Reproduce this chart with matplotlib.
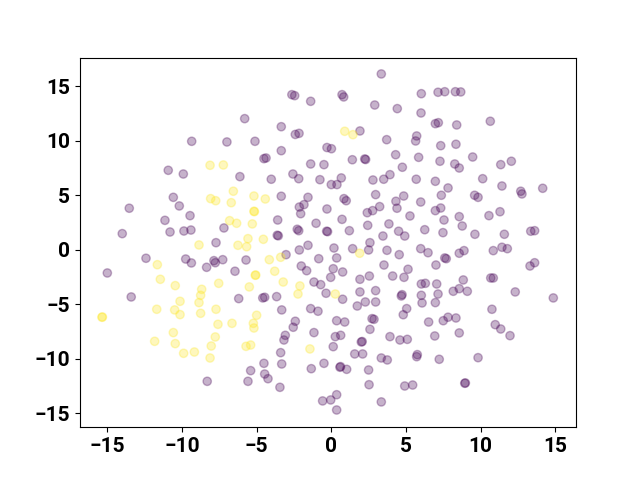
import numpy as np
import matplotlib
matplotlib.use("Agg")
import matplotlib.pyplot as plt

# class 0 (purple) points
px = [-9.35, -10.92, -9.91,
      -2.64, -2.45, -1.38, -5.80, -3.35, -2.41, -2.16, -6.99, -5.11, -3.35, -0.29, 0.01, -4.51, -4.37,
      -6.12, -4.02, -2.57, -2.18, -1.38, -0.49, -0.76,
      3.35, 0.72, 0.83, 6.03, 7.15, 7.60, 2.91, 4.42, 6.01, 6.97, 7.17, 1.92, 3.71, 5.72, 5.65, 7.33,
      1.41, 2.24, 2.30, 4.31, 5.85, 7.28, 8.27, 8.57, 4.76, 3.93, 0.67, 2.79, 3.51, 5.69, 6.97,
      8.31, 8.67, 10.65, 8.40, 8.35, 9.47, 11.35, 12.06, 10.14, 11.43,
      -10.58, -10.18, -13.53, -9.46, -11.14, -10.80, -9.87, -9.40, -14.0, -12.41, -9.75, -9.37, -8.35,
      -15.0, -13.40,
      -3.35, -1.56, -2.14, -1.83, -2.05, -0.29, -3.59, -7.19, -2.28, -2.18, -1.02, -0.31, -0.25, -3.62,
      -3.55, -7.72, -1.56, -2.14, -3.03, -0.84, -7.86, -7.77, -7.27, -5.71, -6.45, -2.01, -1.65, -1.16,
      -0.71, -0.35, -6.20, -4.59, -4.46, -3.66, -1.38, -0.89,
      0.0, 0.38, 7.82, 2.97, 0.85, 1.00, 4.85, 4.33, 5.99, 7.37, 3.24, 4.40, 2.41, 2.77, 6.97, 7.33,
      5.27, 7.55, 0.72, 2.44, 3.86, 1.21, 4.51, 4.92, 6.26, 7.48, 3.46, 2.59, 2.50, 0.18, 1.43, 3.73,
      4.55, 5.99, 6.48, 7.60, 7.70, 0.36, 3.53, 7.01, 0.13, 0.76, 5.14, 2.55, 4.11, 4.87, 1.92, -0.04,
      6.03, 6.30, 7.06, 7.15, 1.92, 2.97, 4.74, 4.69, 6.03, 0.76, 2.28, 2.97, 6.97,
      1.74, 5.05, 4.82, 6.08, 0.36, 0.90, 2.73, 2.86, 6.52, 7.50, 7.82, 2.59, 0.27, 0.63, 3.93, 4.60,
      5.09, 6.93, 0.13, 2.01, 2.07, 1.57, 2.10, 3.35, 3.75, 5.76, 5.72, 7.23, 0.58, 0.62, 1.03, 2.50,
      2.53, 4.92, 5.45, 0.36, -0.04, 3.35, 0.36,
      -3.32, -2.41, -2.55, -1.16, -3.08, -3.17, -3.39, -4.51, -5.40, -3.32, -1.34, -0.49, -4.46, -4.24,
      -8.31, -5.58, -3.44, -0.58,
      12.69, 12.77, 14.16, 9.60, 9.83, 8.57, 10.56, 11.30, 8.77, 9.62, 11.59, 13.36, 13.62, 8.57, 8.89,
      10.85, 11.43, 11.79, 13.31, 13.62, 10.68, 10.85, 8.84, 8.17, 8.57, 9.11, 12.32, 14.87, 10.76,
      8.35, 8.57, 10.98, 11.35, 11.97, 9.83, 8.94, 8.98]
py = [9.97, 7.31, 6.97,
      14.25, 14.16, 13.64, 12.05, 11.31, 10.6, 10.7, 9.91, 9.97, 9.11, 9.40, 9.29, 8.38, 8.44,
      6.73, 6.49, 6.97, 6.54, 7.89, 7.83, 6.45,
      16.15, 14.25, 14.04, 14.34, 14.47, 14.52, 13.30, 12.97, 12.57, 11.59, 11.68, 10.92, 10.12, 10.46, 10.0, 9.57,
      8.28, 8.35, 8.30, 8.74, 8.50, 8.14, 7.89, 7.52, 7.59, 6.91, 6.61, 6.42, 6.49, 6.49, 6.30,
      14.52, 14.50, 11.81, 11.47, 9.70, 8.53, 7.83, 8.14, 6.54, 5.87,
      4.83, 4.04, 3.83, 3.15, 2.72, 1.65, 1.74, 1.83, 1.50, -0.76, -0.83, -1.19, -1.59,
      -2.11, -4.31,
      4.93, 4.83, 3.94, 4.16, 3.33, 3.76, 2.75, 2.02, 1.90, 1.77, 2.45, 1.72, 1.68, 1.35,
      1.30, 0.67, 0.43, 0.0, -0.43, -0.80, -0.98, -1.17, -0.89, -0.92, -1.95, -1.47, -1.90, -2.94,
      -3.18, -3.97, -4.46, -4.40, -4.34, -4.28, -5.38, -5.62,
      6.0, 6.0, 5.69, 5.08, 4.71, 4.52, 4.95, 4.47, 4.40, 5.02, 3.98, 3.83, 3.42, 3.61, 3.61, 3.85,
      3.12, 2.75, 2.81, 2.26, 2.39, 1.77, 1.72, 1.28, 1.86, 1.59, 1.28, 0.67, 0.0, 0.18, 0.12, -0.03,
      -0.43, 0.12, -0.25, -0.73, -0.80, -0.73, -1.38, -1.38, -1.72, -2.02, -1.77, -2.39, -2.39, -2.51, -2.69, -2.51,
      -3.12, -3.06, -3.12, -4.04, -3.85, -3.73, -4.10, -4.22, -4.16, -4.52, -4.77, -4.77, -4.83,
      -5.14, -5.38, -5.94, -4.86, -6.49, -6.61, -6.30, -6.36, -6.61, -6.49, -6.17, -7.28, -7.95, -7.83, -7.95, -8.26,
      -8.20, -7.89, -8.87, -8.44, -8.40, -9.54, -9.54, -9.91, -10.09, -9.60, -9.79, -10.03, -10.76, -10.70, -10.95, -11.01,
      -12.36, -12.48, -12.39, -13.28, -13.76, -13.94, -14.68,
      -5.50, -6.54, -7.09, -7.58, -7.83, -8.26, -9.42, -10.40, -11.07, -10.46, -10.89, -10.40, -11.38, -11.81,
      -12.05, -12.05, -12.60, -13.85,
      5.39, 5.14, 5.66, 5.02, 4.83, 3.06, 3.15, 3.51, 2.20, 1.44, 1.44, 1.72, 1.77, -0.30, -0.06,
      -0.06, 0.25, 0.12, -1.47, -1.17, -2.57, -2.57, -2.75, -3.79, -3.55, -3.79, -3.85, -4.40, -5.44,
      -6.24, -7.61, -6.85, -7.25, -7.86, -9.88, -12.23, -12.20]

# class 1 (yellow) points
yx = [-8.12, -7.23, 0.90, 1.45, -8.86, -11.65, -11.45, -10.45, -8.68, -8.75, -10.13, -8.86, -11.69, -8.75,
      -6.56, -8.08, -7.74, -6.70, -5.18, -4.42, -5.18, -5.15, -6.81, -6.34, -5.29, -5.58, -5.67, -6.25,
      -4.55, -3.39, -4.15, -3.79, -5.09, -5.06, -3.22, -7.54, -5.49, -2.10, -2.23, 1.90, 0.27,
      -7.72, -7.59, -6.65, -5.0, -5.22, -5.18, -7.77, -8.04, -8.12, -5.71, -5.40, -1.43,
      -15.36, -15.33, -10.49, -10.13, -10.58, -11.83, -10.45, -9.89, -9.17]
yy = [7.77, 7.80, 10.89, 10.58, 0.46, -1.35, -2.69, -3.27, -3.61, -4.16, -4.71, -4.83, -5.44, -5.81,
      5.39, 4.71, 4.52, 4.34, 4.95, 4.68, 3.55, 3.52, 2.69, 2.45, 2.39, 1.04, 0.30, 0.43,
      0.98, -0.67, -0.89, -1.95, -2.32, -2.30, -2.94, -3.06, -3.39, -3.30, -4.04, -0.30, -4.04,
      -5.44, -6.82, -6.73, -5.99, -6.73, -7.16, -7.98, -8.81, -9.91, -8.84, -8.72, -9.08,
      -6.17, -6.15, -5.50, -5.93, -7.58, -8.38, -8.59, -9.48, -9.36]

x = np.array(px + yx)
y = np.array(py + yy)
labels = np.array([0] * len(px) + [1] * len(yx))

plt.rcParams['font.family'] = ['Roboto', 'DejaVu Sans']
fig, ax = plt.subplots(figsize=(6.4, 4.8), dpi=100)
ax.scatter(x, y, c=labels, cmap='viridis', alpha=0.3)
ax.set_xlim(-16.83, 16.39)
ax.set_ylim(-16.26, 17.65)
ax.set_xticks([-15, -10, -5, 0, 5, 10, 15])
ax.set_yticks([-15, -10, -5, 0, 5, 10, 15])
for lab in ax.get_xticklabels() + ax.get_yticklabels():
    lab.set_fontsize(15)
    lab.set_fontweight('bold')
fig.savefig('out.png', dpi=100)
